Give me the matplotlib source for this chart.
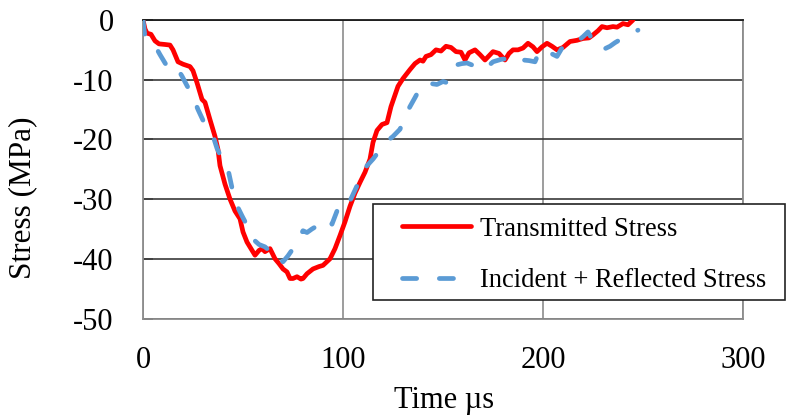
import matplotlib
matplotlib.use("Agg")
import matplotlib.pyplot as plt
from matplotlib.patches import Rectangle
from matplotlib.lines import Line2D

plt.rcParams['font.family'] = ['Liberation Serif', 'DejaVu Serif']

# Transmitted stress (time in µs, stress in MPa)
t_trans = [0, 1, 2, 4, 6, 8, 11, 13.5, 15, 17.5, 20, 23.5, 25, 27, 29.5, 31, 33.5, 36, 37.5,
           38.5, 41, 43.5, 46, 48.5, 50, 52, 54, 56, 58, 59.5, 61, 63.5, 66, 68, 70, 72, 73.5,
           75, 77, 79, 80, 82, 85, 88, 90, 93.5, 96, 98.5, 101, 103.5, 106, 108.5, 111, 113.5,
           115, 117, 119.5, 122, 124, 127.5, 130, 133.5, 136, 138.5, 140, 141.5, 144, 146.5,
           149, 151.5, 154, 156.5, 159, 161, 163, 166, 168.5, 171, 173, 175, 178, 181, 183,
           185, 187.5, 190, 192.5, 195, 197, 199.5, 202, 204.5, 207, 210, 213.5, 217, 220,
           223, 225, 227.5, 229.5, 232, 235, 237, 240, 242.5, 245]
s_trans = [0, -1.5, -2.2, -2.4, -3.5, -4.0, -4.1, -4.2, -5.0, -7.0, -7.4, -7.8, -8.5, -10.5,
           -13.3, -13.8, -16.7, -19.5, -21.7, -24.4, -27.5, -30.0, -32.0, -33.3, -35.5, -37.2,
           -38.3, -39.4, -38.6, -38.3, -38.8, -38.3, -40.0, -40.8, -41.7, -42.2, -43.3, -43.3,
           -43.0, -43.4, -43.3, -42.5, -41.7, -41.3, -41.1, -40.0, -38.3, -36.1, -33.8, -31.2,
           -29.0, -27.2, -25.5, -23.3, -20.5, -18.5, -17.5, -17.2, -14.5, -11.1, -9.8, -8.3,
           -7.3, -6.7, -6.9, -6.1, -5.8, -5.0, -5.2, -4.4, -4.6, -5.3, -5.4, -6.7, -5.5, -5.0,
           -5.8, -6.7, -6.0, -5.3, -5.6, -6.7, -5.6, -5.0, -5.0, -4.7, -3.9, -4.5, -5.3, -4.5,
           -3.9, -4.4, -5.0, -4.6, -3.6, -3.4, -3.1, -3.0, -2.5, -1.8, -1.1, -1.3, -1.1, -1.2,
           -0.6, -0.8, 0]

# Incident + reflected stress
t_inc = [0, 0.5, 1, 3, 5, 7, 8.5, 11, 13, 14.5, 16, 17.5, 19.5, 22, 24.5, 27.5, 30, 32, 35,
         37, 39.5, 42.5, 45, 47, 49.5, 52, 55, 58, 61, 63, 65, 67, 70, 72.5, 75, 77.5, 80, 82,
         84.5, 87, 89.5, 92, 94.5, 97, 100, 103.5, 106, 108.5, 112, 115, 117.5, 120, 122, 125,
         128.5, 131, 133.5, 136, 139.5, 143, 147, 150, 152, 154.5, 157, 159.5, 162, 165, 168,
         171, 173, 175, 179, 183.5, 185.5, 187.5, 190, 193, 196, 198.5, 201, 204, 207, 210,
         213.5, 217, 220, 222.5, 225, 228.5, 231, 233.5, 236, 238.5, 241, 244, 247.5]
s_inc = [0, -1.5, -2.8, -3.3, -3.9, -4.9, -5.8, -7.2, -8.2, -8.6, -8.2, -8.3, -9.4, -11.0,
         -12.5, -15.0, -16.8, -18.0, -19.4, -21.5, -23.3, -25.0, -28.9, -31.1, -32.8, -34.4,
         -36.7, -37.6, -38.0, -38.6, -38.3, -39.4, -40.5, -39.5, -38.3, -36.8, -35.3, -35.6,
         -35.0, -34.5, -34.0, -33.3, -34.2, -32.0, -30.0, -30.3, -28.5, -26.7, -24.4, -23.3,
         -22.2, -21.0, -20.3, -19.5, -18.3, -16.1, -14.5, -13.0, -10.8, -10.6, -10.8, -10.3,
         -10.5, -9.0, -7.5, -7.3, -7.2, -7.6, -7.9, -8.3, -7.6, -7.0, -6.6, -6.4, -6.9, -7.2,
         -6.7, -6.8, -7.0, -5.0, -5.3, -5.6, -6.1, -4.4, -4.0, -3.6, -2.8, -2.0, -3.5, -5.0,
         -4.8, -4.4, -3.8, -3.3, -2.8, -2.3, -1.7]

x_ticks = [0, 100, 200, 300]
y_ticks = [0, -10, -20, -30, -40, -50]
labels = ["Transmitted Stress", "Incident + Reflected Stress"]

RED = '#FF0000'
BLUE = '#5B9BD5'
LW = 3.4
DASH = (3.0, 4.8)

W, H = 787, 419
fig = plt.figure(figsize=(W / 100, H / 100), dpi=100)
ax = fig.add_axes([143 / W, 1 - 318.5 / H, 600 / W, 298.5 / H])

ax.plot(t_trans, s_trans, color=RED, lw=LW, solid_capstyle='round',
        solid_joinstyle='round', zorder=3)
ax.plot(t_inc, s_inc, color=BLUE, lw=LW, dashes=DASH, dash_capstyle='round', zorder=3)

ax.set_xlim(0, 300)
ax.set_ylim(-50, 0)
ax.set_xticks(x_ticks)
ax.set_yticks(y_ticks)
ax.set_xticklabels([str(v) for v in x_ticks])
ax.set_yticklabels([str(v) for v in y_ticks])
ax.tick_params(axis='x', length=0, pad=20, labelsize=22)
ax.tick_params(axis='y', direction='in', length=7, width=1.3, color='#404040',
               pad=21, labelsize=22)

ax.yaxis.grid(True, color='#3a3a3a', lw=1.2)
ax.xaxis.grid(True, color='#8c8c8c', lw=1.2)
ax.set_axisbelow(True)
for side in ['left', 'bottom', 'right']:
    ax.spines[side].set_color('#8c8c8c')
    ax.spines[side].set_linewidth(1.3)
ax.spines['top'].set_color('#1a1a1a')
ax.spines['top'].set_linewidth(1.3)

fig.text(23 / W, 1 - 198 / H, "Stress (MPa)", rotation=90, ha='center', va='center',
         fontsize=22.5)
fig.text(444 / W, 1 - 400 / H, "Time µs", ha='center', va='center', fontsize=22)

# legend frame (Excel-style, extends past the plot area)
frame = Rectangle((373 / W, 1 - 300 / H), (785 - 373) / W, 96 / H,
                  transform=fig.transFigure, facecolor='white', edgecolor='#222222',
                  lw=1.2, zorder=4)
fig.add_artist(frame)

handles = [Line2D([], [], color=RED, lw=LW, solid_capstyle='round'),
           Line2D([], [], color=BLUE, lw=LW, dashes=DASH, dash_capstyle='round')]
leg = fig.legend(handles, labels, loc='center left',
                 bbox_to_anchor=(402 / W, 1 - 255 / H), borderaxespad=0,
                 borderpad=0, fontsize=19.1, frameon=False,
                 handlelength=2.6, handletextpad=0.35, labelspacing=1.0)
leg.set_zorder(5)

fig.savefig("out.png", dpi=100)
